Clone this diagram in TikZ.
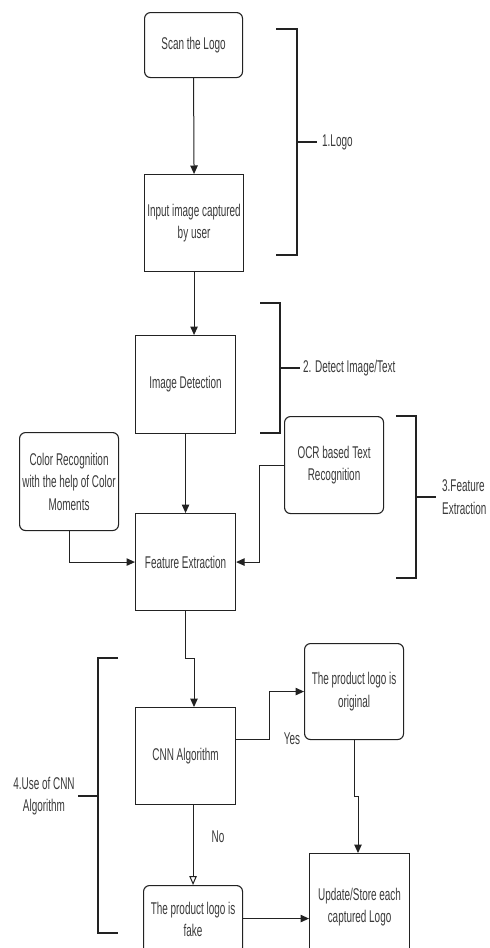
\documentclass[tikz,border=0pt]{standalone}
\usepackage{fontspec}
\setmainfont{Liberation Sans}[FakeStretch=0.585]
\usetikzlibrary{arrows.meta}
\definecolor{txt}{HTML}{3A3A3A}
\definecolor{ln}{HTML}{222222}
\begin{document}
\begin{tikzpicture}[x=1pt,y=-1pt,
  every node/.style={font=\fontsize{17}{22.5}\selectfont, text=txt},
  boxsq/.style={draw=ln, line width=1.1pt, align=center, inner sep=0pt, anchor=north west},
  boxrd/.style={boxsq, rounded corners=6pt},
  conn/.style={draw=ln, line width=1pt, -{Triangle[length=8.5pt,width=7.5pt]}},
  connopen/.style={draw=ln, line width=1pt, -{Triangle[open,length=9pt,width=7.5pt]}},
  brack/.style={draw=ln, line width=2.6pt},
  lbl/.style={inner sep=0pt}
]
\useasboundingbox (0,0) rectangle (490,948);

% boxes
\node[boxrd, minimum width=98pt, minimum height=65pt] (scan) at (144,12) {Scan the Logo};
\node[boxsq, minimum width=99pt, minimum height=97pt] (input) at (144,174) {Input image captured\\by user};
\node[boxsq, minimum width=100pt, minimum height=98pt] (imgdet) at (135,335) {Image Detection};
\node[boxsq, minimum width=100pt, minimum height=97pt] (fe) at (135,513) {Feature Extraction};
\node[boxrd, minimum width=99pt, minimum height=98pt] (color) at (19,432) {Color Recognition\\with the help of Color\\Moments};
\node[boxrd, minimum width=99pt, minimum height=97pt] (ocr) at (284,416) {OCR based Text\\Recognition};
\node[boxsq, minimum width=100pt, minimum height=97pt] (cnn) at (135,707) {CNN Algorithm};
\node[boxrd, minimum width=99pt, minimum height=96pt] (orig) at (304,643) {The product logo is\\original};
\node[boxsq, minimum width=100pt, minimum height=107pt] (update) at (309,853) {Update/Store each\\captured Logo};
\node[boxrd, minimum width=99pt, minimum height=68pt] (fake) at (143,885) {The product logo is\\fake};

% connectors
\draw[conn] (scan.south) -- (input.north);
\draw[conn] (input.south) -- (input.south |- imgdet.north);
\draw[conn] (imgdet.south) -- (fe.north);
\draw[conn] (color.south) |- (fe.west);
\coordinate (ocrk) at (259,0);
\draw[conn] (ocr.west) -- (ocrk |- ocr.west) -- (ocrk |- fe.east) -- (fe.east);
\coordinate (fek) at (194,658);
\draw[conn] (fe.south) -- (fe.south |- fek) -- (fek) -- (fek |- cnn.north);
\coordinate (cnnk) at (269,739);
\draw[conn] (cnn.east |- cnnk) -- (cnnk) -- (cnnk |- orig.west) -- (orig.west);
\coordinate (origk) at (358,796);
\draw[conn] (orig.south) -- (orig.south |- origk) -- (origk) -- (origk |- update.north);
\draw[connopen] (fake.north |- cnn.south) -- (fake.north);
\draw[conn] ([yshift=1pt]fake.east) -- ([yshift=1pt]fake.east -| update.west);

\node[lbl] (yes) at (292,739) {Yes};
\node[lbl] (no) at (218,837) {No};

% brackets
\draw[brack] (276,29) -- (297,29) -- (297,255) -- (276,255);
\draw[brack] (297,142) -- (317,142);
\node[lbl, anchor=west] (l1) at (322,142) {1.Logo};

\draw[brack] (260,303) -- (280,303) -- (280,433) -- (260,433);
\draw[brack] (280,368) -- (300,368);
\node[lbl, anchor=west] (l2) at (303,368) {2. Detect Image/Text};

\draw[brack] (396,416) -- (416,416) -- (416,578) -- (396,578);
\draw[brack] (416,497) -- (436,497);
\node[lbl, anchor=west, align=left] (l3) at (442,497) {3.Feature\\Extraction};

\draw[brack] (118,658) -- (98,658) -- (98,933) -- (118,933);
\draw[brack] (98,796) -- (78,796);
\node[lbl, align=center] (l4) at (44,796) {4.Use of CNN\\Algorithm};
\end{tikzpicture}
\end{document}
